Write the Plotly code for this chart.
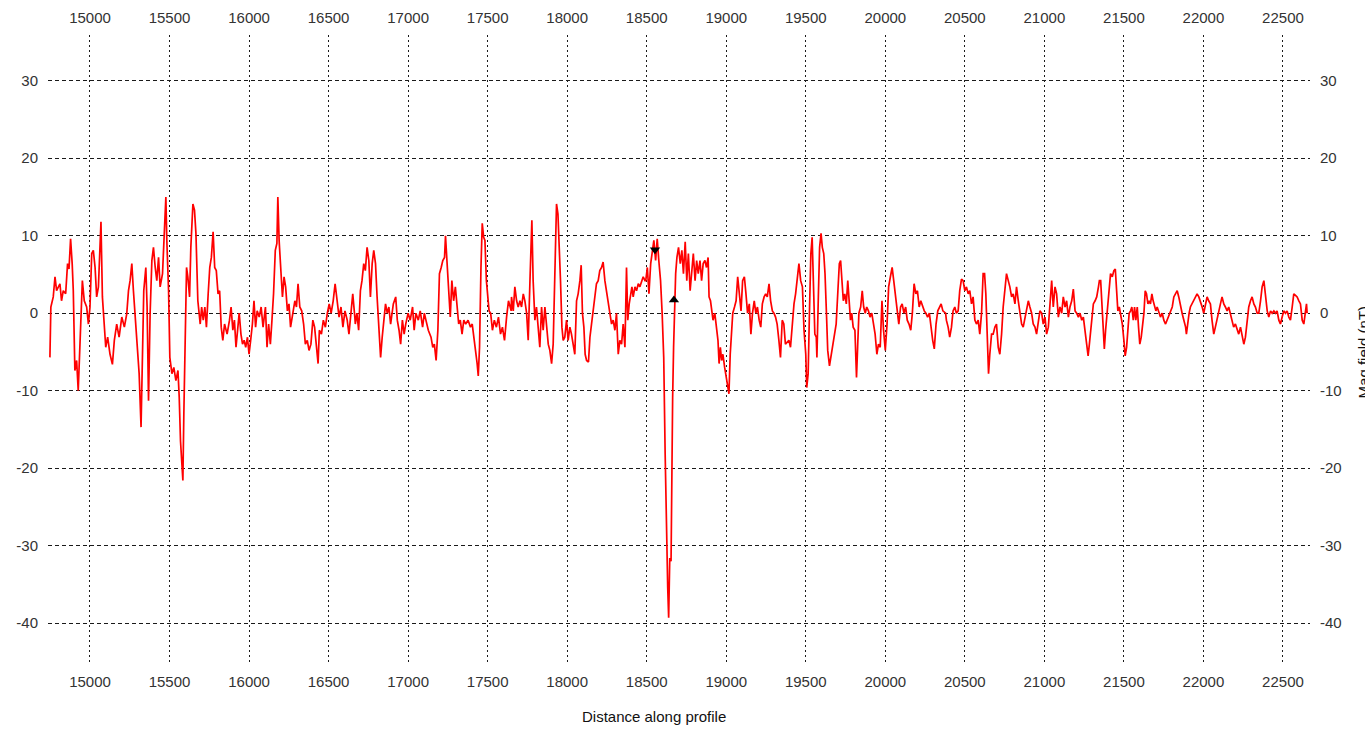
import plotly.graph_objects as go

# Distance along profile and magnetic field (nT)
dist = [
    14748, 14754, 14769, 14780, 14790, 14811, 14821, 14832, 14847, 14859, 14868, 14878, 14888, 14895,
    14905, 14916, 14926, 14933, 14943, 14952, 14964, 14979, 14990, 15000, 15011, 15021, 15032, 15042,
    15053, 15069, 15078, 15090, 15099, 15111, 15126, 15141, 15153, 15168, 15183, 15200, 15216, 15231,
    15242, 15252, 15263, 15273, 15288, 15298, 15309, 15321, 15330, 15338, 15351, 15359, 15368, 15378,
    15389, 15399, 15410, 15420, 15431, 15441, 15456, 15468, 15477, 15483, 15494, 15502, 15515, 15527,
    15540, 15553, 15561, 15569, 15578, 15584, 15590, 15599, 15607, 15615, 15626, 15634, 15647, 15657,
    15666, 15678, 15693,
    15702, 15712, 15722, 15732, 15743, 15753, 15763, 15774, 15784, 15794, 15805, 15815, 15825, 15835,
    15846, 15862, 15877, 15887, 15898, 15908, 15918, 15928, 15938, 15949, 15959, 15969, 15979, 15990,
    16000, 16010, 16021, 16031, 16041, 16051, 16064, 16076, 16088, 16103, 16113, 16123, 16134, 16144,
    16154, 16165, 16175, 16181, 16189, 16200, 16210, 16220, 16230, 16241, 16251, 16261, 16274, 16288,
    16298, 16308, 16319, 16331, 16343, 16354, 16366, 16377, 16389, 16401, 16412, 16422, 16434, 16442,
    16455, 16467, 16480, 16492, 16504, 16516, 16529, 16541, 16553, 16566, 16578, 16590, 16603, 16617,
    16628, 16640, 16652, 16665,
    16668, 16678, 16689, 16700, 16710, 16721, 16731, 16742, 16753, 16763, 16774, 16784, 16795, 16805,
    16816, 16827, 16837, 16847, 16858, 16869, 16879, 16890, 16907, 16922, 16932, 16943, 16953, 16964,
    16975, 16985, 17000, 17013, 17028, 17038, 17049, 17064, 17076, 17091, 17102, 17112, 17127, 17144,
    17155, 17165, 17176, 17187, 17197, 17208, 17218, 17229, 17235, 17244, 17254, 17265, 17275, 17286,
    17297, 17309, 17318, 17328, 17339, 17350, 17362, 17377, 17392, 17403, 17413, 17424, 17434, 17441,
    17449, 17458, 17466, 17475, 17483, 17492, 17500, 17509, 17519, 17530, 17542, 17555, 17568, 17581,
    17593, 17606, 17619, 17631, 17648,
    17650, 17661, 17671, 17682, 17692, 17703, 17713, 17724, 17734, 17745, 17755, 17766, 17772, 17778,
    17786, 17797, 17807, 17818, 17828, 17839, 17849, 17860, 17870, 17881, 17891, 17902, 17912, 17923,
    17933, 17942, 17950, 17958, 17967, 17975, 17985, 17996, 18006, 18017, 18027, 18038, 18048, 18059,
    18069, 18080, 18088, 18096, 18105, 18113, 18122, 18134, 18143, 18153, 18163, 18174, 18184, 18195,
    18205, 18216, 18226, 18237, 18247, 18258, 18268, 18279, 18289, 18300, 18310, 18321, 18331, 18342,
    18352, 18363, 18373, 18381, 18390, 18398, 18407, 18415, 18426, 18436, 18447, 18457, 18468, 18478,
    18489,
    18494, 18504, 18514, 18525, 18535, 18545, 18556, 18566, 18576, 18587, 18597, 18607, 18616, 18624,
    18632, 18638, 18645, 18653, 18657, 18663, 18669, 18676, 18682, 18690, 18700, 18711, 18721, 18731,
    18742, 18752, 18762, 18773, 18783, 18793, 18804, 18814, 18824, 18835, 18845, 18855, 18866, 18876,
    18886, 18892, 18901, 18909, 18917, 18928, 18938, 18948, 18955, 18963, 18971, 18979, 18990, 19000,
    19010, 19017, 19025, 19033, 19041, 19052, 19062, 19072, 19083, 19093, 19103, 19114, 19124, 19134,
    19145, 19155, 19165, 19176, 19186, 19196, 19207, 19217, 19227, 19238, 19248, 19258, 19269, 19279,
    19290, 19300, 19310, 19320, 19331, 19341, 19352, 19362, 19372, 19389,
    19394, 19404, 19415, 19426, 19436, 19447, 19457, 19468, 19479, 19489, 19500, 19506, 19515, 19523,
    19532, 19540, 19547, 19557, 19566, 19570, 19579, 19587, 19596, 19604, 19613, 19621, 19630, 19638,
    19649, 19660, 19670, 19681, 19691, 19702, 19711, 19719, 19728, 19736, 19745, 19755, 19764, 19772,
    19781, 19789, 19798, 19809, 19819, 19826, 19834, 19845, 19855, 19864, 19874, 19883, 19894, 19904,
    19915, 19926, 19936, 19947, 19957, 19968, 19979, 19989, 20000, 20011, 20021, 20032, 20043, 20053,
    20064, 20075, 20085, 20096, 20106, 20117, 20128, 20138, 20149, 20160, 20170, 20181, 20192, 20202,
    20213, 20223, 20234, 20245, 20255, 20266, 20277, 20287, 20298, 20308, 20319, 20330, 20340, 20351,
    20362, 20379,
    20384, 20395, 20405, 20416, 20426, 20437, 20447, 20458, 20468, 20479, 20489, 20500, 20510, 20521,
    20531, 20542, 20552, 20563, 20573, 20584, 20594, 20605, 20615, 20624, 20632, 20640, 20649, 20657,
    20668, 20678, 20689, 20699, 20710, 20720, 20731, 20741, 20752, 20762, 20773, 20783, 20794, 20804,
    20815, 20825, 20836, 20846, 20857, 20867, 20878, 20888, 20899, 20909, 20920, 20930, 20941, 20951,
    20962, 20972, 20983, 20993, 21004, 21014, 21025, 21035, 21046, 21056, 21067, 21077, 21088, 21098,
    21109, 21119, 21130, 21140, 21151, 21161, 21172, 21182, 21193, 21203, 21214, 21224, 21235, 21245,
    21256, 21266, 21275, 21283, 21292, 21300, 21308, 21319, 21329, 21340, 21346,
    21354, 21362, 21370, 21377, 21385, 21395, 21406, 21416, 21427, 21437, 21446, 21454, 21462, 21471,
    21479, 21490, 21500, 21508, 21517, 21525, 21533, 21542, 21550, 21559, 21567, 21575, 21584, 21592,
    21600, 21609, 21617, 21626, 21634, 21642, 21651, 21659, 21667, 21676, 21684, 21692, 21701, 21709,
    21720, 21730, 21741, 21751, 21762, 21772, 21782, 21793, 21804, 21814, 21825, 21835, 21845, 21856,
    21866, 21877, 21888, 21893, 21902, 21910, 21918, 21929, 21939, 21950, 21960, 21971, 21981, 21992,
    22002, 22012, 22023, 22033, 22044, 22054, 22065, 22075, 22086, 22096, 22107, 22117, 22128, 22138,
    22149, 22159, 22170, 22180, 22190, 22201, 22212, 22222, 22233, 22243, 22254, 22264, 22275, 22285,
    22296, 22306, 22317, 22327, 22338, 22348, 22359, 22369, 22380, 22390, 22401, 22411, 22422, 22432,
    22443, 22453, 22463, 22474, 22484, 22495, 22505, 22516, 22526, 22537, 22547, 22558, 22568, 22579,
    22589, 22600, 22610, 22621, 22631, 22642, 22648, 22652,
]

mag = [
    -5.7, 0.8, 2.1, 4.7, 2.9, 3.8, 1.6, 2.9, 2.5, 6.4, 5.7, 9.6, 6.4, 2.9,
    -7.4, -6.1, -10.0, -6.1, 0.0, 4.2, 1.6, 0.8, -1.4, 0.8, 7.7, 8.1, 5.9, 2.1,
    3.4, 11.8, 2.1, -1.4, -4.4, -3.1, -5.3, -6.6, -3.5, -1.4, -3.1, -0.5, -1.8, -0.1,
    2.9, 4.2, 6.4, 2.9, -2.2, -5.3, -7.8, -14.7, -7.0, 2.9, 5.9, 0.8, -11.3, 0.0,
    6.8, 8.5, 5.9, 4.2, 7.2, 3.4, 5.1, 11.6, 15.0, 9.4, 2.9, -5.7, -7.8, -7.0,
    -8.7, -7.4, -10.9, -16.5, -19.9, -21.6, -13.0, 0.0, 5.9, 4.7, 2.1, 8.5, 14.1, 13.3,
    10.3, 1.6, -1.4,
    0.8, -0.9, 0.8, -1.8, 2.5, 5.9, 7.2, 10.5, 5.9, 5.5, 2.5, 2.9, -1.8, -3.5,
    -1.4, -2.7, -0.9, 0.8, -2.2, -0.9, -4.4, -1.8, 0.0, -2.7, -4.0, -3.5, -4.4, -3.1,
    -5.3, -3.5, -1.4, 1.6, -1.8, 0.3, -0.5, 0.8, -1.8, 0.8, -4.4, -1.4, -4.0, -0.9,
    2.5, 8.1, 9.0, 15.0, 9.4, 5.5, 2.1, 4.7, 3.4, 0.3, 1.2, -1.8, 0.0, 1.6,
    0.8, 3.8, 0.8, 0.3, -1.4, -4.0, -3.5, -4.8, -4.0, -0.9, -1.8, -4.4, -6.5, -2.2,
    -2.7, -0.9, -1.8, 0.0, 1.2, 0.0, 1.6, 3.8, 1.6, -0.5, 0.8, -1.8, 0.3, -0.9,
    -2.7, 0.3, 2.5, -0.5,
    -1.4, 0.0, -2.2, 2.9, 4.2, 6.4, 5.5, 8.5, 6.8, 2.1, 6.4, 8.1, 6.4, 2.1,
    -1.8, -5.7, -3.1, -1.4, 1.2, 0.0, 0.8, -1.4, 1.2, 2.1, -0.9, -2.2, -4.0, -0.9,
    -2.7, -1.4, 0.0, -0.9, 0.8, -2.2, 0.0, -0.9, 0.3, -1.8, 0.0, -0.9, -2.2, -3.1,
    -4.4, -4.0, -6.1, -2.2, 5.1, 5.9, 6.8, 7.2, 10.0, 6.8, 3.4, -0.5, 4.2, 1.6,
    3.4, 0.3, -1.4, -0.9, -2.7, -0.9, -1.4, -0.9, -1.8, -1.4, -3.1, -4.4, -6.5, -8.1,
    -4.4, 5.9, 11.6, 9.8, 9.4, 4.2, 2.5, 0.3, 0.0, -2.2, -0.9, -1.8, -0.5, -2.7,
    -1.8, -3.5, -0.5, 1.6, 0.3,
    2.1, 0.3, 3.4, 1.6, 0.8, 1.6, 0.8, 2.5, 1.6, 0.0, -3.5, 4.2, 10.3, 12.0,
    4.2, -0.9, 0.8, -1.8, -4.4, 0.8, -2.2, 0.8, -1.8, -4.0, -4.8, -6.5, -4.0, 5.9,
    14.1, 12.8, 9.4, 4.2, -1.8, -3.5, -3.1, -0.9, -3.5, -1.8, -2.7, -4.4, -5.3, 1.6,
    2.5, 4.2, 6.2, 0.0, -1.8, -5.3, -6.1, -6.3, -3.1, -1.4, 0.3, 2.5, 3.8, 4.2,
    5.5, 5.9, 6.6, 4.2, 2.9, 1.2, 0.3, -1.4, -0.9, -2.2, 0.0, -5.3, -3.5, -4.0,
    -1.4, -4.4, 5.9, -0.9, 1.2, 2.5, 3.4, 2.1, 3.4, 2.9, 3.8, 3.4, 4.2, 4.7,
    4.2,
    4.2, 5.9, 2.5, 6.4, 7.7, 9.4, 6.8, 9.6, 6.8, 4.2, 0.0, -5.7, -18.2, -29.4,
    -35.4, -39.3, -31.6, -32.0, -19.5, -10.9, -4.4, 0.8, 5.1, 7.2, 8.5, 6.4, 8.1, 5.1,
    9.2, 4.2, 7.7, 2.9, 5.9, 7.7, 4.2, 6.8, 5.1, 6.8, 4.2, 6.4, 6.8, 5.9,
    7.2, 2.1, 1.6, 0.3, -0.9, 0.0, -1.8, -3.5, -6.5, -4.4, -6.1, -5.3, -7.0, -8.3,
    -10.0, -10.4, -5.3, -1.8, 0.0, 0.8, 1.6, 4.7, 2.1, 0.3, 4.2, 4.7, 2.5, 0.0,
    1.2, -2.7, 0.0, 1.6, 0.0, 0.8, -0.9, -1.8, 1.2, 2.1, 2.5, 2.1, 3.8, 1.6,
    0.3, 0.0, -0.5, -1.4, -3.5, -5.7, -0.9, -1.4, -4.0, -3.5,
    -3.5, -4.4, -0.9, 1.2, 2.5, 4.7, 6.4, 4.2, 3.4, -2.2, -5.3, -9.6, -7.8, 0.0,
    7.7, 9.8, 4.2, -2.7, -3.1, -5.7, 2.1, 8.5, 10.3, 8.5, 7.7, 5.1, 0.0, -4.8,
    -6.8, -5.3, -4.0, -2.7, -1.4, 2.9, 6.4, 6.8, 4.2, 1.6, 2.5, 1.2, 4.2, 2.1,
    -0.9, 0.0, -1.8, -2.2, -8.3, -4.4, 0.0, 0.8, 2.9, 0.8, 0.0, 0.8, 0.3, -0.5,
    0.0, -1.4, -2.7, -5.3, -4.0, -4.4, 1.6, -2.2, -4.8, -1.4, 3.4, 4.7, 5.9, 4.2,
    2.5, 0.8, -1.4, 0.8, 1.2, 0.0, 0.8, -0.9, -1.4, -2.2, 0.0, 3.8, 2.5, 2.9,
    0.8, 1.6, 0.8, 0.3, 0.0, -0.5, 0.0, -1.8, -3.5, -4.6, -1.4, 0.3, 0.8, 1.2,
    0.3, 0.0,
    -0.9, -1.8, -3.1, -1.8, 0.3, 0.8, 0.0, 0.3, 2.9, 4.4, 4.2, 2.9, 3.4, 2.5,
    2.9, 1.2, 2.1, -0.9, -1.4, -0.9, -2.7, 0.0, 5.1, 5.1, 2.5, -2.7, -7.8, -5.3,
    -2.7, -2.7, -1.8, -1.4, -4.4, -5.3, -2.7, 0.8, 3.4, 5.1, 4.2, 3.4, 2.1, 2.5,
    1.2, 3.4, 1.6, 0.0, -1.4, -1.8, -0.5, 0.3, 1.6, 0.8, 0.0, -1.4, -1.8, -2.7,
    -0.9, 0.3, 0.0, -1.4, -0.5, -2.7, -1.8, 1.6, 4.2, 0.8, 3.4, 2.5, -0.5, 0.8,
    0.0, 2.1, 0.8, 1.6, -0.5, 0.8, 1.6, 3.1, 0.3, 0.0, -0.5, 0.0, -0.9, -0.5,
    -2.2, -4.4, -5.5, -4.0, -1.8, 0.0, 1.2, 1.6, 2.1, 3.4, 4.2,
    4.2, 0.8, -2.7, -4.6, -2.2, 0.0, 3.4, 5.1, 4.7, 5.5, 5.7, 3.4, 0.3, 0.8,
    0.0, -1.4, -3.5, -5.5, -4.4, -2.7, 0.0, 0.3, 0.8, -0.9, 0.8, -0.9, 0.8, -1.8,
    -4.0, -3.1, -1.4, 0.0, 2.9, 2.5, 1.2, 1.6, 1.2, 2.5, 1.6, 0.8, 0.3, 0.8,
    0.0, -0.5, 0.0, -0.9, -1.4, -0.9, -0.5, 0.0, 0.8, 2.1, 2.5, 2.9, 2.1, 0.8,
    0.0, -0.9, -1.8, -2.7, -0.9, 0.0, 0.8, 1.2, 1.6, 2.1, 2.5, 2.1, 1.6, 0.8,
    0.0, 1.2, 2.1, 1.6, 1.2, -0.9, -2.7, -1.8, -0.9, 0.3, 1.2, 2.1, 1.2, 0.8,
    0.3, 0.8, 0.0, -0.9, -1.8, -1.4, -2.2, -2.7, -1.8, -3.1, -4.0, -3.1, -0.9, 0.8,
    1.6, 2.1, 1.2, 0.8, 0.0, 0.0, 1.6, 3.4, 4.2, 2.5, 0.3, -0.5, 0.3, 0.0,
    0.3, 0.0, 0.3, -0.9, -1.4, -0.5, 0.3, 0.0, 0.3, -0.5, -0.9, 0.8, 2.5, 2.3,
    2.1, 1.6, 1.2, -0.9, -1.4, 0.3, 1.2, 0.0,
]

# Selection markers (down / up triangles)
marker_x = [18552, 18671]
marker_y = [8.2, 1.7]
marker_symbols = ["triangle-down", "triangle-up"]

x_ticks = [15000, 15500, 16000, 16500, 17000, 17500, 18000, 18500, 19000,
           19500, 20000, 20500, 21000, 21500, 22000, 22500]
y_ticks = [-40, -30, -20, -10, 0, 10, 20, 30]
x_range = [14736, 22670]
y_range = [-45.4, 35.9]

FONT = "Liberation Sans, Arial, sans-serif"
TICKFONT = dict(family=FONT, size=15, color="#333333")

fig = go.Figure()
fig.add_trace(go.Scatter(x=dist, y=mag, mode="lines",
                         line=dict(color="#ff0000", width=1.7), showlegend=False,
                         hoverinfo="x+y"))
fig.add_trace(go.Scatter(x=marker_x, y=marker_y, mode="markers",
                         marker=dict(symbol=marker_symbols, size=9, color="black"),
                         showlegend=False))
# empty trace to activate the mirrored axes
fig.add_trace(go.Scatter(x=[], y=[], xaxis="x2", yaxis="y2", showlegend=False))

common_x = dict(range=x_range, tickvals=x_ticks, ticktext=[str(v) for v in x_ticks],
                ticks="outside", tickcolor="rgba(0,0,0,0)",
                tickfont=TICKFONT, zeroline=False, showline=False, automargin=False)
common_y = dict(range=y_range, tickvals=y_ticks, ticktext=[str(v) for v in y_ticks],
                ticks="outside", ticklen=6, tickcolor="rgba(0,0,0,0)",
                tickfont=TICKFONT, zeroline=False, showline=False, automargin=False)

fig.update_layout(
    width=1365, height=729,
    margin=dict(l=48, r=55, t=35, b=64, autoexpand=False),
    paper_bgcolor="white", plot_bgcolor="white",
    xaxis=dict(**common_x, side="bottom", ticklen=3, showgrid=True, gridcolor="#1a1a1a",
               gridwidth=1.3, griddash="2px,3px"),
    xaxis2=dict(**common_x, side="top", ticklen=5, overlaying="x", matches="x", showgrid=False),
    yaxis=dict(**common_y, side="left", showgrid=True, gridcolor="#1a1a1a",
               gridwidth=1.3, griddash="4px,3px"),
    yaxis2=dict(**common_y, side="right", overlaying="y", matches="y", showgrid=False),
    annotations=[
        dict(text="Distance along profile", xref="paper", yref="paper",
             x=0.480, y=-0.0825, xanchor="center", yanchor="middle", showarrow=False,
             font=dict(family=FONT, size=15, color="#111111")),
        dict(text="Mag field (nT)", xref="paper", yref="paper", textangle=-90,
             x=1.0341, y=0.497, xanchor="left", yanchor="middle", showarrow=False,
             font=dict(family=FONT, size=15, color="#111111")),
    ],
)

fig.write_html("out.html", config={"displayModeBar": False},
               post_script="document.body.style.margin='0';document.body.style.overflow='hidden';")
